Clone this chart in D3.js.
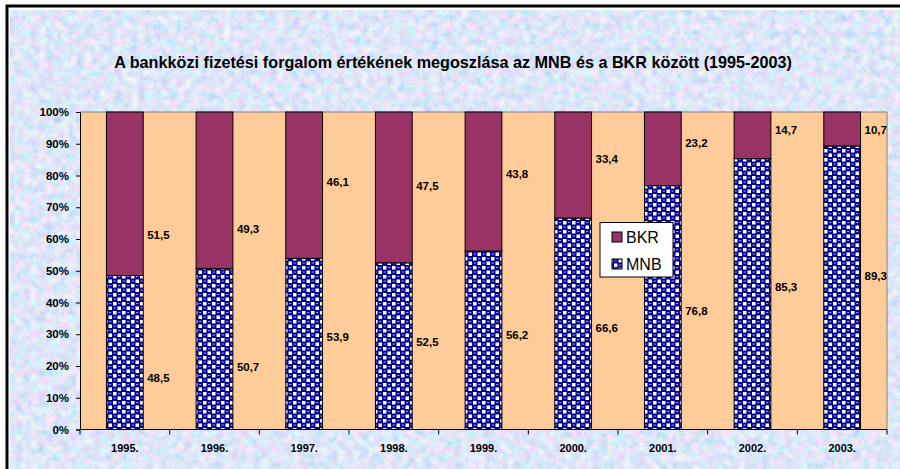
<!DOCTYPE html>
<html><head><meta charset="utf-8">
<script src="https://cdn.jsdelivr.net/npm/d3@7"></script>
<style>html,body{margin:0;padding:0;background:#fff;}svg{display:block;}</style>
</head><body>
<script>
const years = ["1995.","1996.","1997.","1998.","1999.","2000.","2001.","2002.","2003."];
const mnb = [48.5,50.7,53.9,52.5,56.2,66.6,76.8,85.3,89.3];
const bkr = [51.5,49.3,46.1,47.5,43.8,33.4,23.2,14.7,10.7];
const yTicks = [0,10,20,30,40,50,60,70,80,90,100];
const title = "A bankközi fizetési forgalom értékének megoszlása az MNB és a BKR között (1995-2003)";
// label anchor heights (percent units, layout only)
const bkrLabelAt = [61.3,63.1,78.0,76.7,80.5,85.2,90.2,94.3,94.3];
const mnbLabelAt = [16.2,19.7,29.1,27.6,29.8,32.0,37.3,44.9,48.3];

const W=900,H=469;
const FONT="Liberation Sans, Arial, sans-serif";
const svg=d3.select("body").append("svg").attr("width",W).attr("height",H);
const defs=svg.append("defs");
const f=defs.append("filter").attr("id","tex").attr("x",0).attr("y",0).attr("width","100%").attr("height","100%");
f.append("feTurbulence").attr("type","fractalNoise").attr("baseFrequency","0.13").attr("numOctaves",3).attr("seed",7).attr("result","n");
f.append("feColorMatrix").attr("in","n").attr("type","matrix")
 .attr("values","0.8 0 0 0 0.33  0 0.45 0 0 0.57  0 0 0.2 0 0.84  0 0 0 0 1");

const pat=defs.append("pattern").attr("id","mnbpat").attr("patternUnits","userSpaceOnUse").attr("width",9).attr("height",9);
pat.append("rect").attr("width",9).attr("height",9).attr("fill","#000080");
pat.append("rect").attr("x",0.5).attr("y",0.5).attr("width",3.5).attr("height",3.5).attr("fill","#ffffff");
pat.append("rect").attr("x",5).attr("y",5).attr("width",3.5).attr("height",3.5).attr("fill","#ffffff");
pat.append("circle").attr("cx",6.75).attr("cy",2.25).attr("r",2.3).attr("fill","#0a0a9a");
pat.append("circle").attr("cx",2.25).attr("cy",6.75).attr("r",2.3).attr("fill","#0a0a9a");
pat.append("rect").attr("x",5.6).attr("y",1.6).attr("width",2.2).attr("height",0.9).attr("fill","#b0b0ff");
pat.append("rect").attr("x",1.1).attr("y",6.1).attr("width",2.2).attr("height",0.9).attr("fill","#b0b0ff");

// background
svg.append("rect").attr("x",0).attr("y",0).attr("width",W).attr("height",H).attr("fill","#fff");
svg.append("rect").attr("x",10).attr("y",10).attr("width",W-10).attr("height",H-10).attr("filter","url(#tex)");
svg.append("path").attr("d","M7,"+H+"V6H"+W).attr("fill","none").attr("stroke","#000").attr("stroke-width",3);

svg.append("text").attr("x",453).attr("y",68).attr("text-anchor","middle")
 .style("font-family",FONT).style("font-weight","bold").style("font-size","16.2px")
 .text(title);

const L=80,R=887,T=112,B=429.5;
const x=d3.scaleBand().domain(years).range([L,R]).paddingInner(0.59).paddingOuter(0.295);
const y=d3.scaleLinear().domain([0,100]).range([B,T]);

svg.append("rect").attr("x",L).attr("y",T).attr("width",R-L).attr("height",B-T).attr("fill","#FFCC99");
svg.append("path").attr("d",`M${L},${T}H${R}V${B}`).attr("fill","none").attr("stroke","#808080").attr("stroke-width",1);

const g=svg.append("g");
g.selectAll(".m").data(years).join("rect")
 .attr("x",d=>x(d)).attr("width",x.bandwidth())
 .attr("y",(d,i)=>y(mnb[i])).attr("height",(d,i)=>y(0)-y(mnb[i]))
 .attr("fill","url(#mnbpat)").attr("stroke","#000").attr("stroke-width",1);
g.selectAll(".b").data(years).join("rect")
 .attr("x",d=>x(d)).attr("width",x.bandwidth())
 .attr("y",(d,i)=>y(100)).attr("height",(d,i)=>y(mnb[i])-y(100))
 .attr("fill","#993366").attr("stroke","#000").attr("stroke-width",1);

const fmt=v=>String(v.toFixed(1)).replace(".",",");
const lab=svg.append("g").style("font-family",FONT).style("font-weight","bold").style("font-size","11.5px");
years.forEach((d,i)=>{
  lab.append("text").attr("x",x(d)+x.bandwidth()+4).attr("y",y(bkrLabelAt[i])).attr("dy","0.35em").text(fmt(bkr[i]));
  lab.append("text").attr("x",x(d)+x.bandwidth()+4).attr("y",y(mnbLabelAt[i])).attr("dy","0.35em").text(fmt(mnb[i]));
});

const ya=svg.append("g").attr("transform",`translate(${L},0)`)
 .call(d3.axisLeft(y).tickValues(yTicks).tickFormat(d=>d+"%").tickSize(4).tickPadding(7));
ya.select(".domain").attr("stroke","#000");
ya.selectAll("text").style("font-family",FONT).style("font-weight","bold").style("font-size","11.5px").attr("fill","#000");

const xa=svg.append("g").attr("transform",`translate(0,${B})`);
xa.append("line").attr("x1",L).attr("x2",R).attr("stroke","#000");
const step=x.step();
d3.range(years.length+1).forEach(k=>{
  xa.append("line").attr("x1",L+k*step).attr("x2",L+k*step).attr("y1",0).attr("y2",5).attr("stroke","#000");
});
xa.selectAll(".xl").data(years).join("text").attr("x",d=>x(d)+x.bandwidth()/2).attr("y",22)
 .attr("text-anchor","middle").style("font-family",FONT).style("font-weight","bold").style("font-size","11px").text(d=>d);

// legend
const lg=svg.append("g").attr("transform","translate(600,222.5)");
lg.append("rect").attr("width",73).attr("height",54.5).attr("fill","#fff").attr("stroke","#000").attr("stroke-width",1);
[["BKR","#993366"],["MNB","url(#mnbpat)"]].forEach((e,i)=>{
  lg.append("rect").attr("x",12).attr("y",9.5+i*27).attr("width",10).attr("height",10).attr("fill",e[1]).attr("stroke","#000");
  lg.append("text").attr("x",26).attr("y",20+i*27).style("font-family",FONT).style("font-size","16px").text(e[0]);
});
</script>
</body></html>
